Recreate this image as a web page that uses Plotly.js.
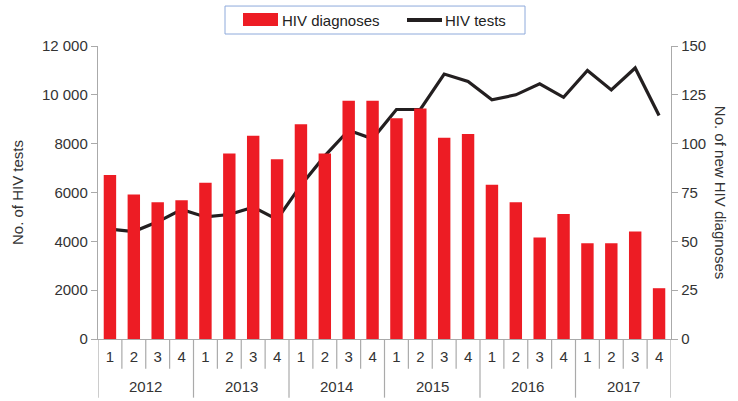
<!DOCTYPE html>
<html><head><meta charset="utf-8">
<script src="https://cdn.plot.ly/plotly-3.0.1.min.js"></script>
<style>html,body{margin:0;padding:0;background:#fff}#chart{width:738px;height:401px}</style>
</head><body><div id="chart"></div>
<script>
const years = ['2012','2013','2014','2015','2016','2017'];
const quarters = ['1','2','3','4'];
const hivDiagnoses = [84,74,70,71, 80,95,104,92, 110,95,122,122, 113,118,103,105, 79,70,52,64, 49,49,55,26];
const hivTests = [4500,4400,4800,5300, 5000,5100,5400,4900, 6300,7500,8550,8200, 9400,9400,10850,10550, 9800,10000,10450,9900, 11000,10200,11100,9150];
const leftTickVals = [0,2000,4000,6000,8000,10000,12000];
const leftTickText = ['0','2000','4000','6000','8000','10 000','12 000'];
const rightTickVals = [0,25,50,75,100,125,150];

const cats = [], catQuarter = [];
years.forEach(y => quarters.forEach(q => { cats.push(y + ' Q' + q); catQuarter.push(q); }));

const FF = 'Liberation Sans, Arial, sans-serif';
const font = {family: FF, size: 15, color: '#333'};
const axisGray = '#aaa';

const traces = [
  {type:'scatter', mode:'lines', x:cats, y:hivTests, yaxis:'y', name:'HIV tests',
   line:{color:'#231f20', width:3.2}, showlegend:false, hoverinfo:'skip'},
  {type:'bar', x:cats, y:hivDiagnoses, yaxis:'y2', name:'HIV diagnoses',
   marker:{color:'#ed1c24'}, width:0.52, showlegend:false, hoverinfo:'skip'}
];

const L = 98, R = 671, T = 46, B = 339.3;
const px2x = p => (p - L) / (R - L);
const px2y = p => (B - p) / (B - T);

const shapes = [
  {type:'rect', xref:'paper', yref:'paper', x0:px2x(225), x1:px2x(525), y0:px2y(34), y1:px2y(6),
   line:{color:'#8eaadb', width:1}, fillcolor:'#fff'},
  {type:'rect', xref:'paper', yref:'paper', x0:px2x(243), x1:px2x(278), y0:px2y(26), y1:px2y(13),
   line:{width:0}, fillcolor:'#ed1c24'},
  {type:'line', xref:'paper', yref:'paper', x0:px2x(407), x1:px2x(442), y0:px2y(20), y1:px2y(20),
   line:{color:'#231f20', width:4}}
];
// quarter separators and year dividers
for (let i = 0; i <= cats.length; i++) {
  const isYear = i % quarters.length === 0;
  shapes.push({type:'line', xref:'x', yref:'paper', x0:i-0.5, x1:i-0.5, y0:0, y1:px2y(isYear ? 398 : 369),
    line:{color:axisGray, width:1.2}});
}
const annotations = [
  {xref:'paper', yref:'paper', x:px2x(280), y:px2y(20), xanchor:'left', yanchor:'middle', showarrow:false,
   text:'HIV diagnoses', font:{family:FF, size:15, color:'#222'}},
  {xref:'paper', yref:'paper', x:px2x(443), y:px2y(20), xanchor:'left', yanchor:'middle', showarrow:false,
   text:'HIV tests', font:{family:FF, size:15, color:'#222'}},
  {xref:'paper', yref:'paper', x:px2x(720), y:px2y(192), xanchor:'center', yanchor:'middle', showarrow:false,
   textangle:90, text:'No. of new HIV diagnoses', font:font}
];
years.forEach((y, k) => {
  annotations.push({xref:'x', yref:'paper', x:k*quarters.length + (quarters.length-1)/2, y:px2y(387),
    xanchor:'center', yanchor:'middle', showarrow:false, text:y, font:font});
});

const layout = {
  width:738, height:401,
  margin:{l:L, r:738-R, t:T, b:401-B},
  paper_bgcolor:'#fff', plot_bgcolor:'rgba(0,0,0,0)',
  font:font,
  showlegend:false,
  xaxis:{type:'category', range:[-0.5,23.5], showgrid:false, showline:true, linecolor:axisGray, linewidth:1.2,
    ticks:'', tickmode:'array', tickvals:cats, ticktext:catQuarter, ticklabelstandoff:4,
    tickfont:font},
  yaxis:{range:[0,12000], tickvals:leftTickVals, ticktext:leftTickText, showgrid:false, zeroline:false,
    showline:true, linecolor:axisGray, linewidth:1.2, ticks:'outside', ticklen:6, tickcolor:axisGray,
    tickfont:font,
    title:{text:'No. of HIV tests', font:font, standoff:14}},
  yaxis2:{range:[0,150], tickvals:rightTickVals, overlaying:'y', side:'right', showgrid:false, zeroline:false,
    showline:true, linecolor:axisGray, linewidth:1.2, ticks:'outside', ticklen:6, tickcolor:axisGray,
    tickfont:font},
  shapes:shapes,
  annotations:annotations
};

Plotly.newPlot('chart', traces, layout, {displayModeBar:false, staticPlot:true});
</script></body></html>
